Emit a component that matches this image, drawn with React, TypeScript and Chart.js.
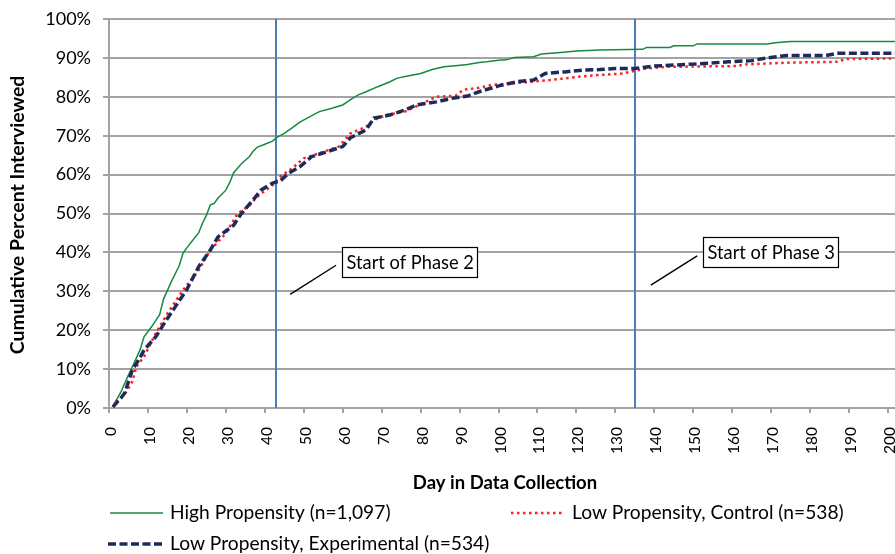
import React, { useEffect, useRef } from 'react';
import { Chart, registerables } from 'chart.js';

Chart.register(...registerables);

// ---- data (day in data collection, cumulative percent interviewed) ----
const highDays = [1, 3, 5, 6, 8, 9, 11, 13, 14, 16, 18, 19, 21, 23, 24, 25, 26, 27, 28, 30, 31, 32, 34, 36, 37, 38, 40, 42, 43, 45, 47, 49, 51, 54, 57, 60, 62, 64, 66, 69, 72, 74, 77, 80, 83, 86, 89, 92, 95, 97, 100, 102, 104, 109, 111, 116, 120, 126, 137, 138, 144, 145, 150, 151, 169, 171, 175, 205];
const highPct = [0.5, 4, 8.5, 10.6, 15, 18.3, 21, 24, 28, 32.5, 36.5, 39.8, 42.5, 45, 47.5, 49.5, 52.2, 52.6, 54, 56, 58, 60.5, 62.8, 64.6, 66, 67, 67.8, 68.6, 69.5, 70.6, 72, 73.5, 74.6, 76.2, 77, 77.9, 79.3, 80.5, 81.3, 82.6, 83.8, 84.8, 85.4, 86, 87, 87.7, 88, 88.3, 88.8, 89, 89.4, 89.5, 90.1, 90.3, 91, 91.4, 91.8, 92, 92.2, 92.7, 92.7, 93.1, 93.1, 93.6, 93.6, 93.9, 94.2, 94.2];

const ctlDays = [1, 2, 4, 6, 7, 9, 12, 15, 19, 23, 26, 30, 33, 36, 38, 42, 44, 47, 50, 54, 59, 62, 66, 68, 71, 76, 79, 84, 89, 91, 95, 98, 104, 109, 115, 121, 126, 132, 135, 138, 143, 161, 163, 175, 187, 189, 205];
const ctlPct = [0.3, 1.6, 3.5, 6.8, 10.6, 13.2, 19.2, 24.3, 30.3, 35.4, 40.6, 44.9, 50, 52, 54.3, 57.3, 59.5, 61.6, 64.2, 65.5, 67.2, 70.6, 72.3, 74, 75.3, 76.2, 77.6, 80, 80.3, 81.8, 82.3, 83, 83.5, 83.9, 84.5, 85.2, 85.6, 86, 86.7, 87.3, 87.7, 87.9, 88.3, 88.8, 89, 89.7, 89.9];

const expDays = [1, 3, 4, 6, 8, 9, 12, 14, 17, 20, 23, 26, 28, 30, 32, 34, 37, 39, 42, 44, 46, 49, 52, 56, 60, 62, 66, 68, 72, 76, 79, 84, 88, 92, 95, 100, 105, 109, 112, 117, 122, 126, 130, 135, 140, 150, 159, 165, 169, 174, 184, 187, 205];
const expPct = [0.3, 2.5, 3.8, 9.8, 13, 14.9, 18.3, 21.5, 26, 30.5, 36.3, 40.6, 44, 45.5, 47, 50, 53.5, 56, 57.8, 58.4, 60.3, 62, 64.6, 65.9, 67.2, 69.5, 71.5, 74.5, 75.3, 76.6, 77.9, 78.7, 79.6, 80.2, 81.3, 82.8, 83.9, 84.3, 86, 86.4, 86.9, 87, 87.3, 87.3, 87.9, 88.4, 89, 89.3, 90, 90.6, 90.6, 91.2, 91.2];

const seriesLabels = [
  'High Propensity (n=1,097)',
  'Low Propensity, Control (n=538)',
  'Low Propensity, Experimental (n=534)',
];

const xTickValues = [0, 10, 20, 30, 40, 50, 60, 70, 80, 90, 100, 110, 120, 130, 140, 150, 160, 170, 180, 190, 200];
const yTickValues = [0, 10, 20, 30, 40, 50, 60, 70, 80, 90, 100];

const phaseDays = [43, 135];
const phaseLabels = ['Start of Phase 2', 'Start of Phase 3'];
// label box anchor (day, pct of top-left) and leader line (from -> to)
const phaseBoxDay = [59.9, 152.5];
const phaseBoxPct = [41.3, 43.9];
const leaderFromDay = [46.5, 139.1];
const leaderFromPct = [29.2, 31.6];
const leaderToDay = [58.3, 151.0];
const leaderToPct = [36.7, 39.1];

const xTitle = 'Day in Data Collection';
const yTitle = 'Cumulative Percent Interviewed';

// ---- styles ----
const FONT = 'Lato';
const GREEN = '#17893f';
const RED = '#ff1f1f';
const NAVY = '#1f2a5c';
const BLUE = '#4a7ebb';
const GRID = '#a3a3a3';

const toPoints = (xs: number[], ys: number[]) => xs.map((x, i) => ({ x, y: ys[i] }));

const overlayPlugin = {
  id: 'overlay',
  beforeDatasetsDraw(chart: any) {
    const { ctx, chartArea, scales } = chart;
    ctx.save();
    ctx.strokeStyle = BLUE;
    ctx.lineWidth = 2;
    phaseDays.forEach((d) => {
      const x = Math.round(scales.x.getPixelForValue(d));
      ctx.beginPath();
      ctx.moveTo(x, chartArea.top);
      ctx.lineTo(x, chartArea.bottom);
      ctx.stroke();
    });
    ctx.restore();
  },
  afterDraw(chart: any) {
    const { ctx, scales } = chart;
    const xs = scales.x;
    const ys = scales.y;
    ctx.save();
    // annotations
    phaseLabels.forEach((label, i) => {
      ctx.strokeStyle = '#000';
      ctx.lineWidth = 1.4;
      ctx.beginPath();
      ctx.moveTo(xs.getPixelForValue(leaderFromDay[i]), ys.getPixelForValue(leaderFromPct[i]));
      ctx.lineTo(xs.getPixelForValue(leaderToDay[i]), ys.getPixelForValue(leaderToPct[i]));
      ctx.stroke();
      ctx.font = `18.3px ${FONT}`;
      const tw = ctx.measureText(label).width;
      const bx = Math.round(xs.getPixelForValue(phaseBoxDay[i])) + 0.5;
      const by = Math.round(ys.getPixelForValue(phaseBoxPct[i])) + 0.5;
      const bw = Math.round(tw + 8);
      const bh = 30;
      ctx.fillStyle = '#fff';
      ctx.fillRect(bx, by, bw, bh);
      ctx.lineWidth = 1.2;
      ctx.strokeRect(bx, by, bw, bh);
      ctx.fillStyle = '#000';
      ctx.textAlign = 'left';
      ctx.textBaseline = 'middle';
      ctx.fillText(label, bx + 4, by + bh / 2 + 1);
    });

    // axis titles
    ctx.fillStyle = '#000';
    ctx.font = `bold 18.5px ${FONT}`;
    ctx.textAlign = 'center';
    ctx.textBaseline = 'middle';
    ctx.fillText(xTitle, 505, 483);
    ctx.save();
    ctx.translate(18, 215);
    ctx.rotate(-Math.PI / 2);
    ctx.font = `bold 19.5px ${FONT}`;
    ctx.fillText(yTitle, 0, 0);
    ctx.restore();

    // legend
    const items = [
      { x: 110, x2: 163, tx: 170, y: 513, color: GREEN, width: 1.5, dash: [] as number[] },
      { x: 511, x2: 564, tx: 572, y: 513, color: RED, width: 2.5, dash: [2.5, 3.5] },
      { x: 108, x2: 163, tx: 170, y: 544, color: NAVY, width: 3.5, dash: [8, 3.5] },
    ];
    items.forEach((it, i) => {
      ctx.strokeStyle = it.color;
      ctx.lineWidth = it.width;
      ctx.setLineDash(it.dash);
      ctx.beginPath();
      ctx.moveTo(it.x, it.y);
      ctx.lineTo(it.x2, it.y);
      ctx.stroke();
      ctx.setLineDash([]);
      ctx.fillStyle = '#000';
      ctx.font = `19.2px ${FONT}`;
      ctx.textAlign = 'left';
      ctx.textBaseline = 'middle';
      ctx.fillText(seriesLabels[i], it.tx, it.y);
    });
    ctx.restore();
  },
};

export default function App() {
  const canvasRef = useRef<HTMLCanvasElement | null>(null);

  useEffect(() => {
    document.body.style.margin = '0';
    const canvas = canvasRef.current;
    if (!canvas) return;
    const chart = new Chart(canvas, {
      type: 'line',
      data: {
        datasets: [
          {
            label: seriesLabels[0],
            data: toPoints(highDays, highPct),
            borderColor: GREEN,
            borderWidth: 1.5,
            pointRadius: 0,
            tension: 0,
            order: 3,
          },
          {
            label: seriesLabels[1],
            data: toPoints(ctlDays, ctlPct),
            borderColor: RED,
            borderWidth: 2.5,
            borderDash: [2.5, 3.5],
            pointRadius: 0,
            tension: 0,
            order: 2,
          },
          {
            label: seriesLabels[2],
            data: toPoints(expDays, expPct),
            borderColor: NAVY,
            borderWidth: 3.5,
            borderDash: [8, 3.5],
            pointRadius: 0,
            tension: 0,
            order: 1,
          },
        ],
      },
      options: {
        responsive: false,
        animation: false,
        events: [],
        layout: { padding: { top: 19, right: 13, left: 0, bottom: 0 } },
        plugins: {
          legend: { display: false },
          tooltip: { enabled: false },
          title: { display: false },
        },
        scales: {
          x: {
            type: 'linear',
            min: 0,
            max: 210,
            afterBuildTicks: (s: any) => {
              s.ticks = xTickValues.map((v) => ({ value: v }));
            },
            afterFit: (s: any) => {
              s.height = 146;
              s.paddingLeft = 0;
              s.paddingRight = 0;
            },
            ticks: {
              autoSkip: false,
              minRotation: 90,
              maxRotation: 90,
              padding: 14,
              labelOffset: 2,
              color: '#000',
              font: { family: FONT, size: 15.5 },
            },
            grid: {
              drawOnChartArea: false,
              drawTicks: true,
              tickLength: 5,
              color: GRID,
              lineWidth: 2,
            },
            border: { display: true, color: GRID, width: 2 },
          },
          y: {
            type: 'linear',
            min: 0,
            max: 100,
            afterBuildTicks: (s: any) => {
              s.ticks = yTickValues.map((v) => ({ value: v }));
            },
            afterFit: (s: any) => {
              s.width = 109;
              s.paddingTop = 0;
              s.paddingBottom = 0;
            },
            ticks: {
              padding: 12,
              color: '#000',
              font: { family: FONT, size: 18 },
              callback: (v: any) => `${v}%`,
            },
            grid: {
              color: GRID,
              lineWidth: 2,
              tickLength: 6,
            },
            border: { display: true, color: GRID, width: 2 },
          },
        },
      },
      plugins: [overlayPlugin],
    } as any);
    return () => chart.destroy();
  }, []);

  return (
    <div style={{ position: 'fixed', left: 0, top: 0, width: 895, height: 554, overflow: 'hidden', background: '#fff' }}>
      <canvas ref={canvasRef} width={940} height={554} style={{ display: 'block', width: 940, height: 554 }} />
    </div>
  );
}
